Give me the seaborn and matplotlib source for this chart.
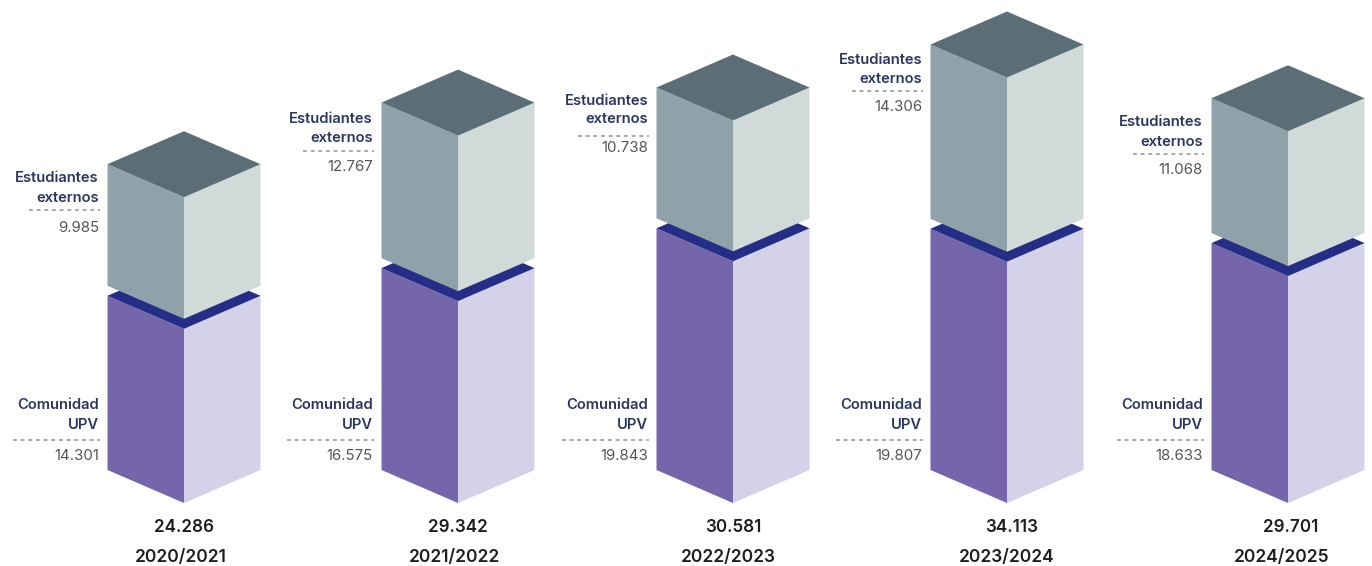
import numpy as np
import pandas as pd
import seaborn as sns
import matplotlib.pyplot as plt
from matplotlib.transforms import Affine2D

cursos = ["2020/2021", "2021/2022", "2022/2023", "2023/2024", "2024/2025"]
comunidad = [14301, 16575, 19843, 19807, 18633]
externos = [9985, 12767, 10738, 14306, 11068]

# layout, in pixels of the 1372x566 picture
centros = np.array([184, 458, 733, 1007, 1288])
mitad = 76.5
escala = 0.01218     # px per student
base = 470           # pixel row of value 0
hueco = 10 / escala  # gap between the two blocks
k = (33 / mitad) / escala  # slope of the base, in students per px
fondo = 33 / escala  # half height of a top face

yExternos = [(178, 198, 210, 228), (119, 138, 151, 167), (101, 119, 136, 148),
             (60, 79, 91, 107), (122, 142, 154, 170)]
yComunidad = (405, 425, 440, 456)
xTotal = [184, 458, 733, 1012, 1291]
xCurso = [181, 455, 728, 1007, 1282]

sns.set_theme(style="white")
plt.rcParams['font.family'] = ['Inter', 'DejaVu Sans']

fig, ax = plt.subplots(figsize=(13.72, 5.66), dpi=100)
fig.subplots_adjust(0, 0, 1, 1)


def filaValor(py):
    return (base - py) / escala


def cara(xCara, altura, abajo, color, signo):
    # seaborn draws the bar, the shear turns it into an isometric face
    tabla = pd.DataFrame({"x": xCara, "altura": altura})
    sns.barplot(data=tabla, x="x", y="altura", native_scale=True, errorbar=None,
                bottom=abajo, width=mitad / np.diff(xCara).min(), color=color,
                saturation=1, linewidth=0, ax=ax)
    for barra in ax.patches[-len(xCara):]:
        x0 = barra.get_x() if signo < 0 else barra.get_x() + barra.get_width()
        corte = Affine2D(np.array([[1, 0, 0], [signo * k, 1, -signo * k * x0], [0, 0, 1]]))
        barra.set_transform(corte + ax.transData)
        barra.set_snap(False)


com = np.array(comunidad)
ext = np.array(externos)
inicioExt = com + hueco

cara(centros - mitad / 2, com, 0, "#7566ab", -1)
cara(centros + mitad / 2, com, 0, "#d4d2e8", 1)
for c, v in zip(centros, com):
    ax.fill([c - mitad, c, c + mitad, c], [v, v + fondo, v, v - fondo], color="#252e87", lw=0)
cara(centros - mitad / 2, ext, inicioExt, "#8fa2a9", -1)
cara(centros + mitad / 2, ext, inicioExt, "#d0dbd9", 1)
for c, v in zip(centros, inicioExt + ext):
    ax.fill([c - mitad, c, c + mitad, c], [v, v + fondo, v, v - fondo], color="#5c6e75", lw=0)

ax.set_xlim(0, 1372)
ax.set_ylim(filaValor(566), filaValor(0))
ax.axis("off")


def etiqueta(xd, filas, linea1, linea2, valor, largo):
    ax.text(xd, filaValor(filas[0]), linea1, ha="right", va="center", fontsize=10.6,
            fontweight="semibold", color="#2b3560")
    ax.text(xd, filaValor(filas[1]), linea2, ha="right", va="center", fontsize=10.6,
            fontweight="semibold", color="#2b3560")
    ax.plot([xd - largo, xd + 1], [filaValor(filas[2])] * 2, color="#999999", lw=1.2,
            linestyle=(0, (2.3, 2.3)))
    ax.text(xd, filaValor(filas[3]), f"{valor:,}".replace(",", "."), ha="right", va="center",
            fontsize=10.8, color="#555555")


for i, curso in enumerate(cursos):
    xd = centros[i] - mitad - 8.5
    etiqueta(xd, yExternos[i], "Estudiantes", "externos", externos[i], 70)
    etiqueta(xd, yComunidad, "Comunidad", "UPV", comunidad[i], 86)
    total = comunidad[i] + externos[i]
    ax.text(xTotal[i], filaValor(527), f"{total:,}".replace(",", "."), ha="center", va="center",
            fontsize=12.3, fontweight="semibold", color="#1e1e1e")
    ax.text(xCurso[i], filaValor(557), curso, ha="center", va="center", fontsize=12.5,
            fontweight="semibold", color="#1e1e1e")

fig.savefig("out.png", dpi=100)
